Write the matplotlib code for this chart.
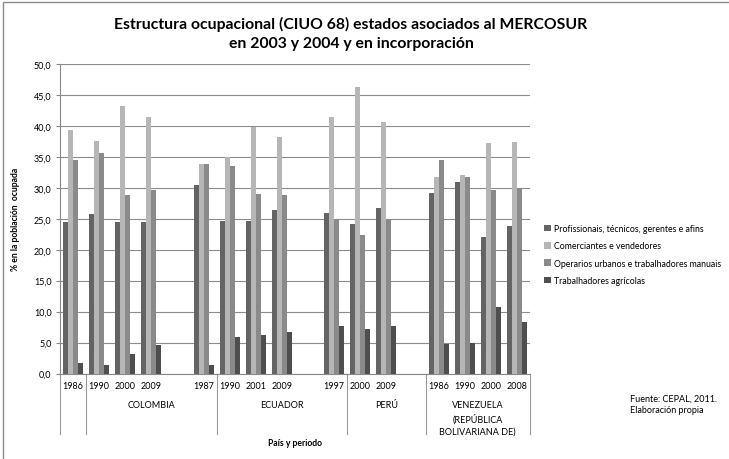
import numpy as np
import matplotlib
matplotlib.use("Agg")
import matplotlib.pyplot as plt
from matplotlib.patches import Patch, Rectangle

plt.rcParams['font.family'] = ['Lato', 'DejaVu Sans']

# year per slot ('' marks an empty gap between countries)
years = ['1986', '1990', '2000', '2009', '', '1987', '1990', '2001', '2009', '',
         '1997', '2000', '2009', '', '1986', '1990', '2000', '2008']

profesionales = [24.5, 25.7, 24.4, 24.4, None, 30.4, 24.7, 24.7, 26.4, None,
                 25.9, 24.2, 26.8, None, 29.1, 31.0, 22.1, 23.9]
comerciantes = [39.3, 37.5, 43.2, 41.4, None, 33.9, 35.0, 39.9, 38.2, None,
                41.4, 46.3, 40.6, None, 31.8, 32.1, 37.3, 37.4]
operarios = [34.5, 35.6, 28.8, 29.7, None, 33.9, 33.5, 29.0, 28.8, None,
             24.9, 22.4, 25.0, None, 34.5, 31.8, 29.7, 30.0]
agricolas = [1.7, 1.4, 3.1, 4.6, None, 1.3, 5.9, 6.3, 6.7, None,
             7.7, 7.2, 7.7, None, 4.7, 5.0, 10.8, 8.3]

series_names = ['Profissionais, técnicos, gerentes e afins',
                'Comerciantes e vendedores',
                'Operarios urbanos e trabalhadores manuais',
                'Trabalhadores agrícolas']
colors = ['#646464', '#b6b6b6', '#8a8a8a', '#4e4e4e']

countries = ['', 'COLOMBIA', 'ECUADOR', 'PERÚ', 'VENEZUELA\n(REPÚBLICA\nBOLIVARIANA DE)']
country_slots = [(0, 1), (1, 6), (6, 11), (11, 14), (14, 18)]

W, H = 729, 460
fig = plt.figure(figsize=(W / 100, H / 100), dpi=100)
ax = fig.add_axes([60 / W, (H - 374.5) / H, 470 / W, 309.5 / H])

x = np.arange(len(years))
bw = 0.19
for k, vals in enumerate([profesionales, comerciantes, operarios, agricolas]):
    v = np.array([np.nan if a is None else a for a in vals], dtype=float)
    ax.bar(x + (k - 1.5) * bw, v, width=bw, color=colors[k], edgecolor='none', zorder=3)

ax.set_xlim(-0.5, len(years) - 0.5)
ax.set_ylim(0, 50)
ticks = np.arange(0, 51, 5)
ax.set_yticks(ticks)
ax.set_yticklabels([('%.1f' % t).replace('.', ',') for t in ticks], fontsize=6.5)
ax.tick_params(axis='y', length=3, color='#888888', pad=3)
ax.set_xticks([])
ax.grid(axis='y', color='#8c8c8c', linewidth=0.8, zorder=0)
for s in ['top', 'right']:
    ax.spines[s].set_visible(False)
for s in ['left', 'bottom']:
    ax.spines[s].set_color('#888888')
    ax.spines[s].set_linewidth(0.8)

# two-level category axis: years, then countries with separators
tr = ax.get_xaxis_transform()
for i, y in enumerate(years):
    ax.text(i, -12 / 309.5, y, transform=tr, ha='center', va='center', fontsize=6.5)
for name, (a, b) in zip(countries, country_slots):
    ax.text((a + b - 1) / 2, -26.5 / 309.5, name, transform=tr, ha='center', va='top',
            fontsize=6.5, linespacing=1.45)
for bnd in [-0.5, 0.5, 5.5, 10.5, 13.5, 17.5]:
    ax.plot([bnd, bnd], [0, -60.5 / 309.5], transform=tr, color='#999999', linewidth=0.8, clip_on=False)

ax.set_ylabel('% en la población  ocupada', fontsize=6.2, fontweight='bold')
ax.yaxis.set_label_coords(-40 / 470, 0.5)
fig.text(295 / W, 1 - 444 / H, 'País y periodo', ha='center', va='center', fontsize=6.2, fontweight='bold')

fig.text(351 / W, 1 - 34 / H, 'Estructura ocupacional (CIUO 68) estados asociados al MERCOSUR\nen 2003 y 2004 y en incorporación',
         ha='center', va='center', fontsize=11.3, fontweight='bold', linespacing=1.4)

handles = [Patch(facecolor=c, edgecolor='none') for c in colors]
fig.legend(handles, series_names, loc='upper left', bbox_to_anchor=(544 / W, 1 - 225 / H), frameon=False,
           fontsize=6.3, handlelength=0.8, handleheight=0.8, handletextpad=0.3, labelspacing=0.95, borderaxespad=0,
           borderpad=0)

fig.text(630 / W, 1 - 405 / H, 'Fuente: CEPAL, 2011.\nElaboración propia', ha='left', va='center',
         fontsize=6.5, linespacing=1.4)

# outer chart frame
fig.patches.append(Rectangle((3 / W, -0.5), 1.5, 1.5 - 3 / H, transform=fig.transFigure,
                             fill=False, edgecolor='#8c8c8c', linewidth=1))

fig.savefig('out.png', dpi=100)
